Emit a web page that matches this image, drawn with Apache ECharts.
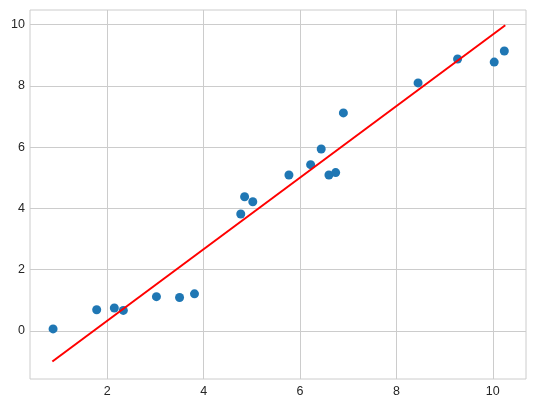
<!DOCTYPE html>
<html>
<head>
<meta charset="utf-8">
<script src="https://cdn.jsdelivr.net/npm/echarts@6/dist/echarts.min.js"></script>
<style>html,body{margin:0;padding:0;background:#fff}#c{width:536px;height:408px}</style>
</head>
<body>
<div id="c"></div>
<script>
var xValues = [0.875, 1.78, 2.146, 2.333, 3.02, 3.5, 3.81, 4.77, 4.85, 5.02, 5.77, 6.22, 6.44, 6.6, 6.74, 6.9, 8.45, 9.27, 10.03, 10.24];
var yValues = [0.065, 0.69, 0.75, 0.67, 1.12, 1.09, 1.21, 3.82, 4.38, 4.22, 5.09, 5.43, 5.94, 5.09, 5.17, 7.12, 8.1, 8.88, 8.78, 9.14];
var fitX = [0.86, 10.26];
var fitY = [-1.0, 9.98];
var xTicks = [2, 4, 6, 8, 10];
var yTicks = [0, 2, 4, 6, 8, 10];

var scatterData = xValues.map(function (x, i) { return [x, yValues[i]]; });
var lineData = fitX.map(function (x, i) { return [x, fitY[i]]; });

var labelStyle = { fontFamily: 'Liberation Sans', fontSize: 12.5, color: '#262626' };
var chart = echarts.init(document.getElementById('c'), null, { renderer: 'canvas' });
chart.setOption({
  animation: false,
  backgroundColor: '#ffffff',
  grid: { left: 30, top: 10, width: 496, height: 369, show: true, borderColor: '#cccccc', borderWidth: 1, backgroundColor: 'transparent' },
  xAxis: {
    type: 'value', min: 0.396, max: 10.69,
    axisLine: { show: false }, axisTick: { show: false, customValues: xTicks },
    axisLabel: Object.assign({ customValues: xTicks, margin: 6 }, labelStyle),
    splitLine: { show: true, lineStyle: { color: '#cccccc', width: 1 } }
  },
  yAxis: {
    type: 'value', min: -1.57, max: 10.48,
    axisLine: { show: false }, axisTick: { show: false, customValues: yTicks },
    axisLabel: Object.assign({ customValues: yTicks, margin: 5 }, labelStyle),
    splitLine: { show: true, lineStyle: { color: '#cccccc', width: 1 } }
  },
  series: [
    { type: 'scatter', data: scatterData, symbolSize: 9, itemStyle: { color: '#1f77b4', opacity: 1 } },
    { type: 'line', data: lineData, showSymbol: false, symbol: 'none', lineStyle: { color: '#ff0000', width: 2 } }
  ]
});
</script>
</body>
</html>
